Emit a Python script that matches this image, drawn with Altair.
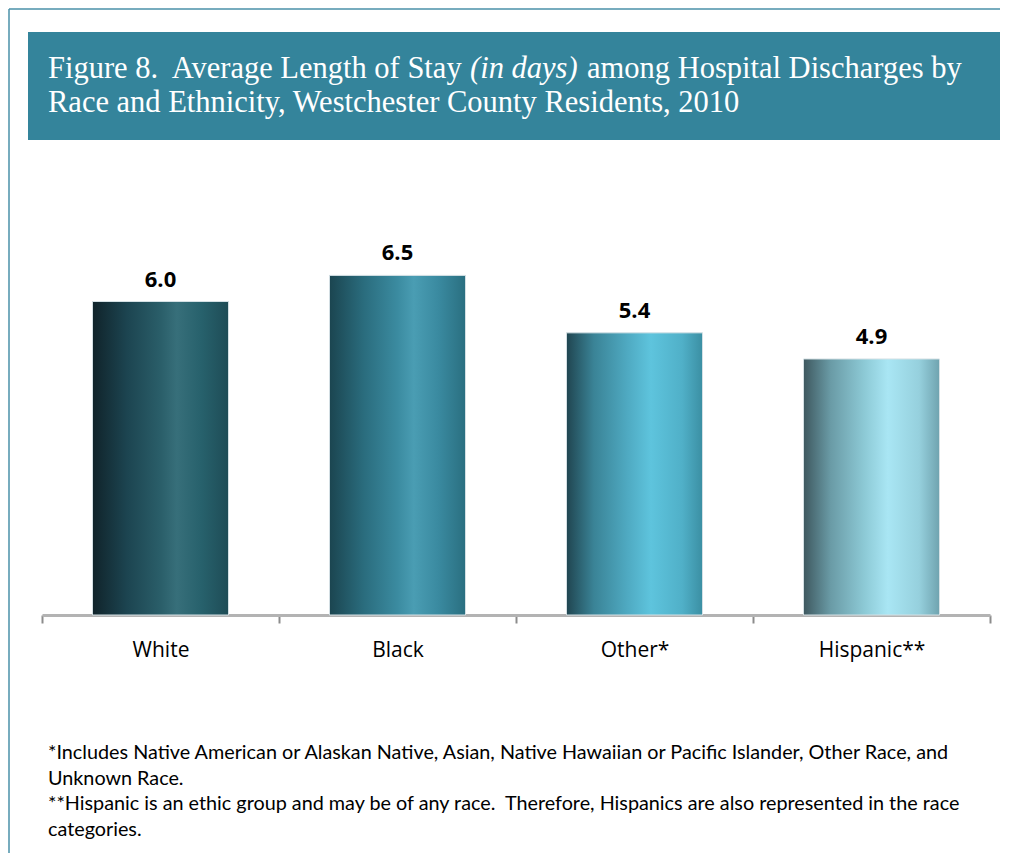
import altair as alt
import pandas as pd

# ---------------- data ----------------
CATEGORIES = ["White", "Black", "Other*", "Hispanic**"]
VALUES = [6.0, 6.5, 5.4, 4.9]
VALUE_LABELS = ["6.0", "6.5", "5.4", "4.9"]

NBSP = "\u00a0"
TITLE_LINE1 = ["Figure 8." + NBSP + " Average Length of Stay", "(in days)", "among Hospital Discharges by"]
TITLE_LINE2 = ["Race and Ethnicity, Westchester County Residents, 2010"]

FOOTNOTES = [
    "*Includes Native American or Alaskan Native, Asian, Native Hawaiian or Pacific Islander, Other Race, and",
    "Unknown Race.",
    "**Hispanic is an ethic group and may be of any race." + NBSP + " Therefore, Hispanics are also represented in the race",
    "categories.",
]

# gradient stops (offset, colour) per bar, left to right
GRADIENTS = {
    "White": [(0, "#10232A"), (0.25, "#1C4450"), (0.5, "#2A5E69"), (0.62, "#376F7A"), (0.8, "#27616C"), (1, "#1E4C56")],
    "Black": [(0, "#1B4550"), (0.25, "#2A6C7D"), (0.5, "#3B8BA0"), (0.62, "#4A9DB3"), (0.8, "#3A8AA0"), (1, "#2A6F80")],
    "Other*": [(0, "#204550"), (0.2, "#3A8396"), (0.45, "#4FAAC2"), (0.62, "#5EC4DD"), (0.85, "#50B0C8"), (1, "#3B8FA3")],
    "Hispanic**": [(0, "#3E585F"), (0.2, "#6A9BA6"), (0.45, "#8DCAD6"), (0.62, "#A9E6F4"), (0.85, "#96D0DD"), (1, "#6FA3AF")],
}

df = pd.DataFrame({"category": CATEGORIES, "value": VALUES, "label": VALUE_LABELS})

W, H = 948, 418
PAD = {"left": 34, "top": 189, "right": 10, "bottom": 238}

x_enc = alt.X(
    "category:N",
    sort=CATEGORIES,
    scale=alt.Scale(domain=CATEGORIES, paddingInner=0, paddingOuter=0),
    title=None,
    axis=alt.Axis(
        labelAngle=0,
        labelFont="Open Sans",
        labelFontSize=21,
        labelColor="#000000",
        labelPadding=16,
        tickBand="extent",
        tickSize=8,
        tickColor="#8C8C8C",
        tickWidth=2,
        domainColor="#B3B3B3",
        domainWidth=3,
        grid=False,
    ),
)
y_enc = alt.Y("value:Q", scale=alt.Scale(domain=[0, 8], nice=False), axis=None)

base = alt.Chart(df)

bar_layers = []
for cat in CATEGORIES:
    grad = alt.Gradient(
        gradient="linear",
        x1=0, x2=1, y1=0, y2=0,
        stops=[alt.GradientStop(offset=o, color=c) for o, c in GRADIENTS[cat]],
    )
    bar_layers.append(
        base.transform_filter(alt.datum.category == cat)
        .mark_bar(color=grad, stroke="#D5E1E5", strokeWidth=1, width=alt.RelativeBandSize(0.574))
        .encode(x=x_enc, y=y_enc)
    )

labels = base.mark_text(
    baseline="alphabetic", dy=-15, font="Open Sans", fontSize=22, fontWeight="bold", color="#000000"
).encode(x=x_enc, y=y_enc, text="label:N")

# title banner
banner = alt.Chart(pd.DataFrame({"k": [0]})).mark_rect(color="#34849B").encode(
    x=alt.value(-14), x2=alt.value(958), y=alt.value(-165), y2=alt.value(-57)
)

TITLE_FONT = "Liberation Serif"
TFS = 30.5
Y1, Y2 = -119, -85
t1a = alt.Chart(pd.DataFrame({"t": [TITLE_LINE1[0]]})).mark_text(
    align="left", baseline="alphabetic", font=TITLE_FONT, fontSize=TFS, color="white"
).encode(x=alt.value(6), y=alt.value(Y1), text="t:N")
t1b = alt.Chart(pd.DataFrame({"t": [TITLE_LINE1[1]]})).mark_text(
    align="left", baseline="alphabetic", font=TITLE_FONT, fontSize=TFS, fontStyle="italic", color="white"
).encode(x=alt.value(428), y=alt.value(Y1), text="t:N")
t1c = alt.Chart(pd.DataFrame({"t": [TITLE_LINE1[2]]})).mark_text(
    align="left", baseline="alphabetic", font=TITLE_FONT, fontSize=TFS, color="white"
).encode(x=alt.value(545), y=alt.value(Y1), text="t:N")
t2 = alt.Chart(pd.DataFrame({"t": TITLE_LINE2})).mark_text(
    align="left", baseline="alphabetic", font=TITLE_FONT, fontSize=TFS, color="white"
).encode(x=alt.value(6), y=alt.value(Y2), text="t:N")

# footnotes
foot_layers = []
for i, line in enumerate(FOOTNOTES):
    foot_layers.append(
        alt.Chart(pd.DataFrame({"t": [line]})).mark_text(
            align="left", baseline="alphabetic", font="Lato", fontSize=19.8, color="#000000"
        ).encode(x=alt.value(6), y=alt.value(562 + 25.7 * i), text="t:N")
    )

# outer frame (top and left edges)
frame_top = alt.Chart(pd.DataFrame({"k": [0]})).mark_rule(color="#4A90A8", strokeWidth=1.5).encode(
    x=alt.value(-33), x2=alt.value(W + 10), y=alt.value(-188)
)
frame_left = alt.Chart(pd.DataFrame({"k": [0]})).mark_rule(color="#4A90A8", strokeWidth=1.5).encode(
    x=alt.value(-33), y=alt.value(-188), y2=alt.value(H + PAD["bottom"])
)

chart = alt.layer(
    frame_top, frame_left, banner, t1a, t1b, t1c, t2,
    *bar_layers, labels, *foot_layers,
).properties(
    width=W, height=H,
    padding=PAD,
    autosize=alt.AutoSizeParams(type="none"),
    background="white",
).configure_view(stroke=None)

chart.save("out.html", embed_options={"renderer": "svg", "actions": False})
